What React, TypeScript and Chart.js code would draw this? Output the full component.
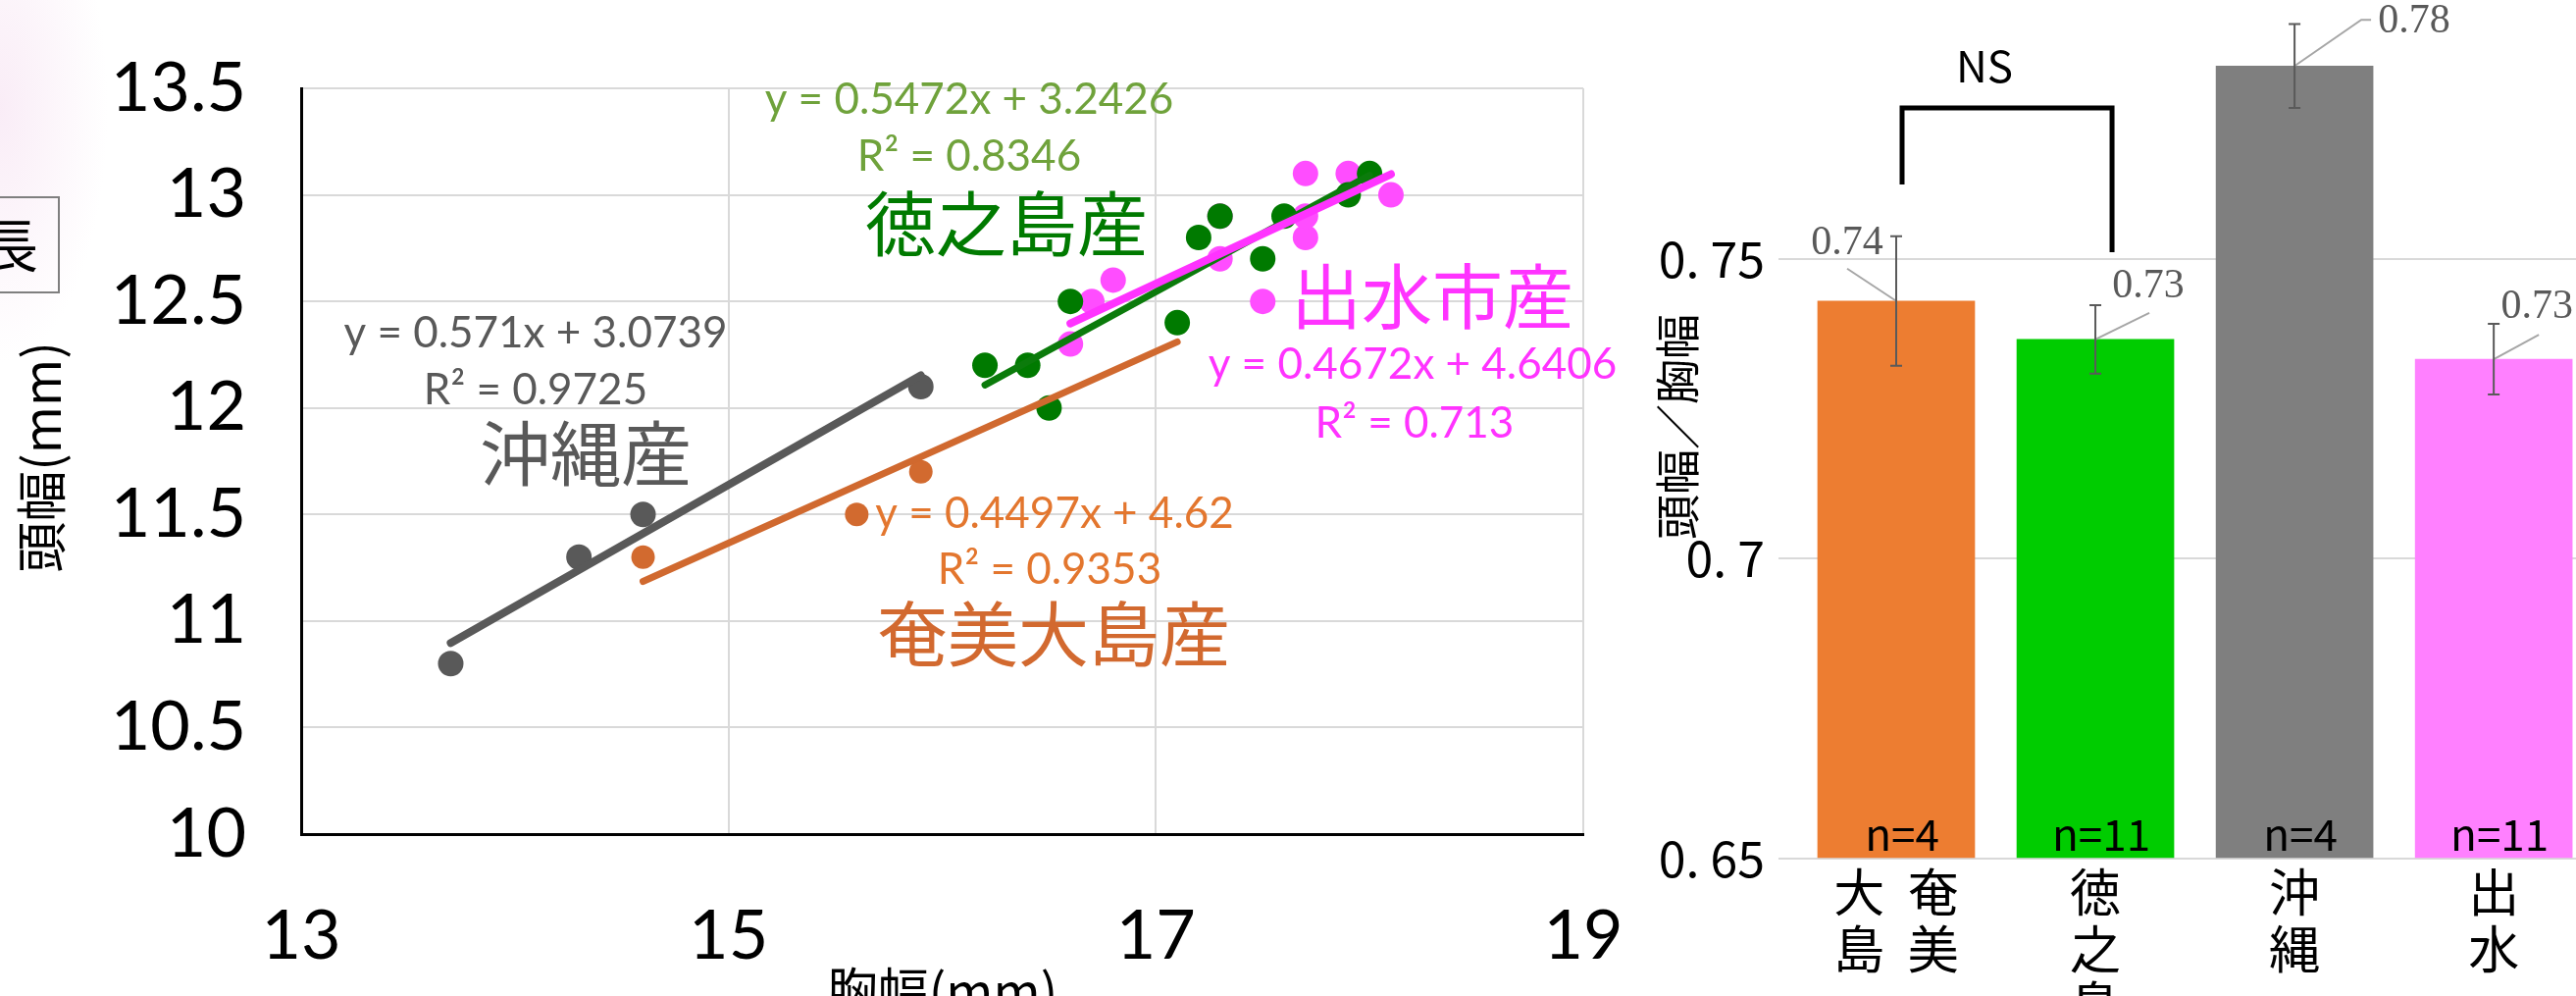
import React, { useEffect, useRef } from 'react';
import { Chart, registerables } from 'chart.js';
Chart.register(...registerables);

// ---------- Scatter data (胸幅 vs 頭幅) ----------
const groupNames = ['沖縄産', '奄美大島産', '徳之島産', '出水市産'];
const okinawaX = [13.7, 14.3, 14.6, 15.9];
const okinawaY = [10.8, 11.3, 11.5, 12.1];
const amamiX = [14.6, 15.6, 15.9, 17.1];
const amamiY = [11.3, 11.5, 11.7, 12.4];
const tokunoshimaX = [16.2, 16.4, 16.5, 16.6, 17.1, 17.2, 17.3, 17.5, 17.6, 17.9, 18.0];
const tokunoshimaY = [12.2, 12.2, 12.0, 12.5, 12.4, 12.8, 12.9, 12.7, 12.9, 13.0, 13.1];
const izumiX = [16.6, 16.7, 16.8, 17.3, 17.3, 17.5, 17.7, 17.7, 17.7, 17.9, 18.1];
const izumiY = [12.3, 12.5, 12.6, 12.7, 12.9, 12.5, 12.8, 12.9, 13.1, 13.1, 13.0];
const trendSlope = [0.571, 0.4497, 0.5472, 0.4672];
const trendIntercept = [3.0739, 4.62, 3.2426, 4.6406];
const trendR2 = [0.9725, 0.9353, 0.8346, 0.713];
const scatterXTitle = '胸幅(mm)';
const scatterYTitle = '頭幅(mm)';

// ---------- Bar data (頭幅/胸幅) ----------
const barCategoryLines = [['大  奄', '島  美'], ['徳', '之', '島'], ['沖', '縄'], ['出', '水']];
const barValues = [0.743, 0.7366, 0.7822, 0.7333];
const barErrors = [0.0108, 0.0057, 0.007, 0.0059];
const barLabels = ['0.74', '0.73', '0.78', '0.73'];
const barN = [4, 11, 4, 11];
const barYTicks = [0.65, 0.7, 0.75];
const barYTitle = '頭幅／胸幅';

// ---------- styles ----------
const seriesX = [okinawaX, amamiX, tokunoshimaX, izumiX];
const seriesY = [okinawaY, amamiY, tokunoshimaY, izumiY];
const pointColors = ['#595959', '#D26A2F', '#007A00', '#FF4DFF'];
const lineColors = ['#595959', '#D0692F', '#0B7B0B', '#FF33FF'];
const eqColors = ['#595959', '#E3762E', '#6FA23B', '#FF33FF'];
const nameColors = ['#595959', '#D2692F', '#007A00', '#FF33FF'];
const pointRadii = [13, 12, 13, 13];
const lineWidths = [8, 7, 7, 8];
const pointOrder = [7, 6, 4, 5];
const lineOrder = [3, 2, 1, 0];
const barColors = ['#ED7D31', '#00CC00', '#7F7F7F', '#FF80FF'];

const CJK = '"Noto Sans CJK JP", "Noto Sans CJK SC", sans-serif';
const LATIN = 'Lato, "Open Sans", sans-serif';

// text anchor positions (centre x, centre y) for equation, R², group name
const eqPos = [[546, 340], [1075, 524], [988, 102], [1440, 372]];
const r2Pos = [[546, 398], [1070, 581], [988, 160], [1442, 432]];
const namePos = [[597, 462], [1074, 646], [1026, 228], [1460, 302]];

function drawVerticalTitle(ctx: any, text: string, x: number, y: number, font: string) {
  ctx.save();
  ctx.translate(x, y);
  ctx.rotate(-Math.PI / 2);
  ctx.font = font;
  ctx.fillStyle = '#000';
  ctx.textAlign = 'center';
  ctx.textBaseline = 'middle';
  ctx.fillText(text, 0, 0);
  ctx.restore();
}

const scatterAnnotations = {
  id: 'scatterAnnotations',
  afterDraw(chart: any) {
    const ctx = chart.ctx;
    ctx.save();
    ctx.textAlign = 'center';
    ctx.textBaseline = 'middle';
    for (let i = 0; i < groupNames.length; i++) {
      ctx.font = `44px ${LATIN}`;
      ctx.fillStyle = eqColors[i];
      ctx.fillText(`y = ${trendSlope[i]}x + ${trendIntercept[i]}`, eqPos[i][0], eqPos[i][1]);
      ctx.fillText(`R² = ${trendR2[i]}`, r2Pos[i][0], r2Pos[i][1]);
      ctx.font = `72px ${CJK}`;
      ctx.fillStyle = nameColors[i];
      ctx.fillText(groupNames[i], namePos[i][0], namePos[i][1]);
    }
    // cut-off text box at left edge
    ctx.strokeStyle = '#7F7F7F';
    ctx.lineWidth = 2;
    ctx.strokeRect(-4, 201, 64, 97);
    ctx.fillStyle = '#000';
    ctx.font = `58px ${CJK}`;
    ctx.fillText('長', 10, 250);
    ctx.restore();
    drawVerticalTitle(ctx, scatterYTitle, 42, 466, `52px ${CJK}`);
  },
};

const barAnnotations = {
  id: 'barAnnotations',
  afterDatasetsDraw(chart: any) {
    const ctx = chart.ctx;
    const xs = chart.scales.x;
    const ys = chart.scales.y;
    const labelOffsets = [[-50, -59], [54, -54], [122, -45], [44, -53]];
    const leaderOffsets = [[[-50, -33]], [[55, -27]], [[68, -47], [78, -47]], [[46, -25]]];
    ctx.save();
    for (let i = 0; i < barValues.length; i++) {
      const cx = xs.getPixelForValue(i);
      const top = ys.getPixelForValue(barValues[i]);
      const hi = ys.getPixelForValue(barValues[i] + barErrors[i]);
      const lo = ys.getPixelForValue(barValues[i] - barErrors[i]);
      // leader line
      ctx.strokeStyle = '#A6A6A6';
      ctx.lineWidth = 2;
      ctx.beginPath();
      ctx.moveTo(cx, top);
      for (const [dx, dy] of leaderOffsets[i]) ctx.lineTo(cx + dx, top + dy);
      ctx.stroke();
      // error bar
      ctx.strokeStyle = '#5A5A5A';
      ctx.lineWidth = 2;
      ctx.beginPath();
      ctx.moveTo(cx, hi);
      ctx.lineTo(cx, lo);
      ctx.moveTo(cx - 6, hi);
      ctx.lineTo(cx + 6, hi);
      ctx.moveTo(cx - 6, lo);
      ctx.lineTo(cx + 6, lo);
      ctx.stroke();
      // value label
      ctx.fillStyle = '#595959';
      ctx.font = '42px "Liberation Serif", serif';
      ctx.textAlign = 'center';
      ctx.textBaseline = 'middle';
      ctx.fillText(barLabels[i], cx + labelOffsets[i][0], top + labelOffsets[i][1]);
      // n label
      ctx.fillStyle = '#000';
      ctx.font = `44px ${CJK}`;
      ctx.fillText(`n=${barN[i]}`, cx + 6, ys.bottom - 25);
    }
    // NS bracket
    const lx = xs.getPixelForValue(0) + 6;
    const rx = xs.getPixelForValue(1) + 17;
    ctx.strokeStyle = '#000';
    ctx.lineWidth = 5;
    ctx.lineJoin = 'miter';
    ctx.beginPath();
    ctx.moveTo(lx, 188);
    ctx.lineTo(lx, 110);
    ctx.lineTo(rx, 110);
    ctx.lineTo(rx, 257);
    ctx.stroke();
    ctx.fillStyle = '#000';
    ctx.font = `44px "Liberation Sans Narrow", ${CJK}`;
    ctx.textAlign = 'center';
    ctx.textBaseline = 'middle';
    ctx.fillText('NS', (lx + rx) / 2 - 23, 67);
    ctx.restore();
    drawVerticalTitle(ctx, barYTitle, 40, 435, `46px ${CJK}`);
  },
};

function buildScatterConfig(): any {
  const datasets: any[] = [];
  for (let i = 0; i < groupNames.length; i++) {
    const xs = seriesX[i];
    const ys = seriesY[i];
    datasets.push({
      label: groupNames[i],
      data: xs.map((x, k) => ({ x, y: ys[k] })),
      backgroundColor: pointColors[i],
      borderWidth: 0,
      pointRadius: pointRadii[i],
      pointHoverRadius: pointRadii[i],
      order: pointOrder[i],
    });
  }
  for (let i = 0; i < groupNames.length; i++) {
    const xs = seriesX[i];
    const x0 = Math.min(...xs);
    const x1 = Math.max(...xs);
    datasets.push({
      label: groupNames[i] + ' trend',
      data: [x0, x1].map((x) => ({ x, y: trendSlope[i] * x + trendIntercept[i] })),
      showLine: true,
      borderColor: lineColors[i],
      borderWidth: lineWidths[i],
      borderCapStyle: 'round',
      pointRadius: 0,
      pointHoverRadius: 0,
      order: lineOrder[i],
    });
  }
  return {
    type: 'scatter',
    data: { datasets },
    options: {
      animation: false,
      responsive: false,
      events: [],
      layout: { padding: { top: 90, right: 56, left: 0, bottom: 0 } },
      plugins: { legend: { display: false }, tooltip: { enabled: false } },
      scales: {
        x: {
          type: 'linear',
          min: 13,
          max: 19,
          ticks: { stepSize: 2, font: { family: LATIN, size: 70 }, color: '#000', padding: 62 },
          grid: { color: '#D9D9D9', lineWidth: 2, drawTicks: false },
          border: { color: '#000', width: 3 },
          title: {
            display: true,
            text: scatterXTitle,
            color: '#000',
            font: { family: CJK, size: 52 },
            padding: { top: 0, bottom: -26 },
          },
          afterFit: (s: any) => {
            s.height = 165;
            s.paddingLeft = 0;
            s.paddingRight = 0;
          },
        },
        y: {
          type: 'linear',
          min: 10,
          max: 13.5,
          ticks: {
            stepSize: 0.5,
            callback: (v: number) => String(Number(v.toFixed(1))),
            font: { family: LATIN, size: 70 },
            color: '#000',
            padding: 56,
          },
          grid: { color: '#D9D9D9', lineWidth: 2, drawTicks: false },
          border: { color: '#000', width: 3 },
          afterFit: (s: any) => {
            s.width = 307;
            s.paddingTop = 0;
            s.paddingBottom = 0;
          },
        },
      },
    },
    plugins: [scatterAnnotations],
  };
}

function buildBarConfig(): any {
  return {
    type: 'bar',
    data: {
      datasets: [
        {
          label: barYTitle,
          data: barValues.map((v, i) => ({ x: i, y: v })),
          backgroundColor: barColors,
          borderWidth: 0,
          barThickness: 160,
          base: 0.65,
        },
      ],
    },
    options: {
      animation: false,
      responsive: false,
      events: [],
      layout: { padding: 0 },
      plugins: { legend: { display: false }, tooltip: { enabled: false } },
      scales: {
        x: {
          type: 'linear',
          offset: false,
          min: -0.591,
          max: 3.413,
          afterBuildTicks: (s: any) => {
            s.ticks = barCategoryLines.map((_, i) => ({ value: i }));
          },
          ticks: {
            autoSkip: false,
            maxRotation: 0,
            callback: (_v: number, idx: number) => barCategoryLines[idx],
            font: { family: CJK, size: 52, lineHeight: 1.1 },
            color: '#000',
            padding: 6,
          },
          grid: { display: false, drawTicks: false, offset: false },
          border: { display: false },
          afterFit: (s: any) => {
            s.height = 140;
            s.paddingLeft = 0;
            s.paddingRight = 0;
          },
        },
        y: {
          type: 'linear',
          min: 0.65,
          max: 0.7932,
          afterBuildTicks: (s: any) => {
            s.ticks = barYTicks.map((v) => ({ value: v }));
          },
          ticks: {
            callback: (v: number) => String(v).replace('.', '. '),
            font: { family: CJK, size: 50 },
            color: '#000',
            padding: 14,
          },
          grid: { color: '#D9D9D9', lineWidth: 2, drawTicks: false },
          border: { display: false },
          afterFit: (s: any) => {
            s.width = 143;
            s.paddingTop = 0;
            s.paddingBottom = 0;
          },
        },
      },
    },
    plugins: [barAnnotations],
  };
}

export default function App() {
  const scatterRef = useRef<HTMLCanvasElement>(null);
  const barRef = useRef<HTMLCanvasElement>(null);

  useEffect(() => {
    const sc = new Chart(scatterRef.current as HTMLCanvasElement, buildScatterConfig());
    const bc = new Chart(barRef.current as HTMLCanvasElement, buildBarConfig());
    return () => {
      sc.destroy();
      bc.destroy();
    };
  }, []);

  return (
    <div
      style={{
        position: 'fixed',
        left: 0,
        top: 0,
        width: 2626,
        height: 1015,
        overflow: 'hidden',
        background: '#fff',
      }}
    >
      <div
        style={{
          position: 'absolute',
          left: 0,
          top: 0,
          width: 300,
          height: 600,
          background:
            'radial-gradient(ellipse 110px 260px at 0px 110px, rgba(244,218,238,0.5), rgba(255,255,255,0))',
        }}
      />
      <canvas
        ref={scatterRef}
        width={1670}
        height={1015}
        style={{ position: 'absolute', left: 0, top: 0, width: 1670, height: 1015 }}
      />
      <canvas
        ref={barRef}
        width={956}
        height={1015}
        style={{ position: 'absolute', left: 1670, top: 0, width: 956, height: 1015 }}
      />
    </div>
  );
}
